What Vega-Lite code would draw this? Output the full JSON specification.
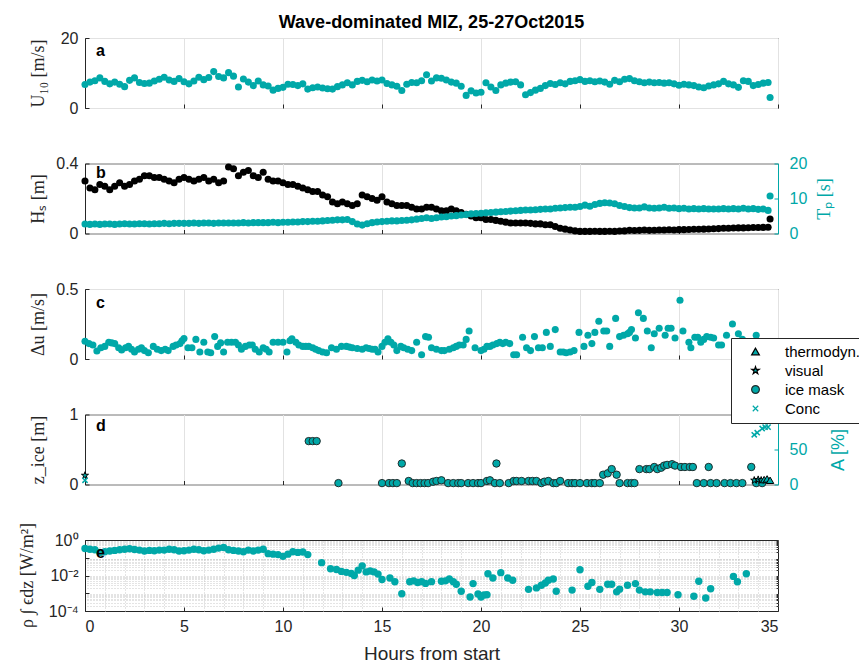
{
  "$schema": "https://vega.github.io/schema/vega-lite/v6.json",
  "background": "white",
  "padding": {"left": 17, "top": 13, "right": 0, "bottom": 5},
  "title": {"text": "Wave-dominated MIZ, 25-27Oct2015", "font": "Liberation Sans", "fontSize": 18, "fontWeight": "bold", "color": "#000000", "anchor": "middle", "frame": "group", "offset": -2},
  "spacing": 55.5,
  "bounds": "flush",
  "datasets": {
    "ab": [
      {"t":0,"u":6.7,"h":0.30,"p":2.7},{"t":0.25,"u":7.4,"h":0.26,"p":2.6},{"t":0.5,"u":7.8,"h":0.25,"p":2.7},{"t":0.75,"u":8.6,"h":0.28,"p":2.6},
      {"t":1,"u":7.6,"h":0.27,"p":2.7},{"t":1.25,"u":6.9,"h":0.25,"p":2.7},{"t":1.5,"u":7.4,"h":0.27,"p":2.6},{"t":1.75,"u":6.8,"h":0.29,"p":2.7},
      {"t":2,"u":6.1,"h":0.27,"p":2.8},{"t":2.25,"u":7.9,"h":0.28,"p":2.7},{"t":2.5,"u":8.6,"h":0.30,"p":2.7},{"t":2.75,"u":7.3,"h":0.31,"p":2.8},
      {"t":3,"u":7.0,"h":0.33,"p":2.8},{"t":3.25,"u":7.1,"h":0.33,"p":2.7},{"t":3.5,"u":7.7,"h":0.32,"p":2.8},{"t":3.75,"u":8.2,"h":0.32,"p":2.8},
      {"t":4,"u":8.8,"h":0.31,"p":2.9},{"t":4.25,"u":8.0,"h":0.30,"p":2.8},{"t":4.5,"u":7.6,"h":0.29,"p":2.9},{"t":4.75,"u":8.4,"h":0.31,"p":2.9},
      {"t":5,"u":7.5,"h":0.32,"p":2.9},{"t":5.25,"u":6.9,"h":0.31,"p":2.9},{"t":5.5,"u":7.7,"h":0.30,"p":3.0},{"t":5.75,"u":8.8,"h":0.31,"p":2.9},
      {"t":6,"u":8.1,"h":0.32,"p":3.0},{"t":6.25,"u":8.7,"h":0.30,"p":3.0},{"t":6.5,"u":10.4,"h":0.31,"p":2.9},{"t":6.75,"u":9.0,"h":0.29,"p":3.0},
      {"t":7,"u":8.6,"h":0.30,"p":3.0},{"t":7.25,"u":10.1,"h":0.38,"p":3.0},{"t":7.5,"u":9.1,"h":0.37,"p":3.0},{"t":7.75,"u":6.0,"h":0.33,"p":3.0},
      {"t":8,"u":8.3,"h":0.35,"p":3.1},{"t":8.25,"u":7.4,"h":0.36,"p":3.0},{"t":8.5,"u":6.4,"h":0.33,"p":3.1},{"t":8.75,"u":7.7,"h":0.32,"p":3.1},
      {"t":9,"u":6.6,"h":0.35,"p":3.1},{"t":9.25,"u":6.3,"h":0.31,"p":3.1},{"t":9.5,"u":5.1,"h":0.30,"p":3.2},{"t":9.75,"u":5.6,"h":0.30,"p":3.1},
      {"t":10,"u":5.9,"h":0.29,"p":3.2},{"t":10.25,"u":6.8,"h":0.28,"p":3.2},{"t":10.5,"u":6.7,"h":0.28,"p":3.3},{"t":10.75,"u":6.4,"h":0.27,"p":3.3},
      {"t":11,"u":6.9,"h":0.26,"p":3.4},{"t":11.25,"u":5.4,"h":0.25,"p":3.4},{"t":11.5,"u":5.8,"h":0.24,"p":3.5},{"t":11.75,"u":6.0,"h":0.24,"p":3.5},
      {"t":12,"u":5.7,"h":0.22,"p":3.6},{"t":12.25,"u":5.5,"h":0.21,"p":3.7},{"t":12.5,"u":5.4,"h":0.18,"p":3.8},{"t":12.75,"u":6.1,"h":0.17,"p":3.9},
      {"t":13,"u":6.6,"h":0.18,"p":3.9},{"t":13.25,"u":7.2,"h":0.17,"p":4.0},{"t":13.5,"u":6.6,"h":0.16,"p":3.4},{"t":13.75,"u":7.6,"h":0.17,"p":2.7},
      {"t":14,"u":7.9,"h":0.22,"p":2.4},{"t":14.25,"u":7.5,"h":0.21,"p":2.8},{"t":14.5,"u":8.0,"h":0.20,"p":3.1},{"t":14.75,"u":7.7,"h":0.19,"p":3.3},
      {"t":15,"u":8.0,"h":0.21,"p":3.4},{"t":15.25,"u":7.0,"h":0.18,"p":3.5},{"t":15.5,"u":6.6,"h":0.17,"p":3.6},{"t":15.75,"u":6.2,"h":0.16,"p":3.6},
      {"t":16,"u":5.0,"h":0.16,"p":3.7},{"t":16.25,"u":6.8,"h":0.16,"p":3.8},{"t":16.5,"u":7.3,"h":0.15,"p":3.9},{"t":16.75,"u":7.2,"h":0.14,"p":4.1},
      {"t":17,"u":7.8,"h":0.14,"p":4.3},{"t":17.25,"u":9.5,"h":0.15,"p":4.5},{"t":17.5,"u":7.7,"h":0.15,"p":4.3},{"t":17.75,"u":8.6,"h":0.14,"p":4.5},
      {"t":18,"u":8.5,"h":0.13,"p":4.7},{"t":18.25,"u":8.0,"h":0.13,"p":4.8},{"t":18.5,"u":7.4,"h":0.14,"p":5.0},{"t":18.75,"u":7.1,"h":0.13,"p":5.1},
      {"t":19,"u":6.2,"h":0.12,"p":5.3},{"t":19.25,"u":3.6,"h":0.11,"p":5.4},{"t":19.5,"u":4.9,"h":0.10,"p":5.6},{"t":19.75,"u":4.3,"h":0.09,"p":5.7},
      {"t":20,"u":4.5,"h":0.09,"p":5.8},{"t":20.25,"u":7.2,"h":0.08,"p":5.9},{"t":20.5,"u":6.0,"h":0.08,"p":6.0},{"t":20.75,"u":5.0,"h":0.075,"p":6.1},
      {"t":21,"u":6.6,"h":0.07,"p":6.2},{"t":21.25,"u":7.1,"h":0.065,"p":6.3},{"t":21.5,"u":7.4,"h":0.06,"p":6.4},{"t":21.75,"u":7.5,"h":0.06,"p":6.5},
      {"t":22,"u":6.6,"h":0.06,"p":6.6},{"t":22.25,"u":3.8,"h":0.06,"p":6.7},{"t":22.5,"u":4.4,"h":0.058,"p":6.7},{"t":22.75,"u":5.1,"h":0.055,"p":6.8},
      {"t":23,"u":5.6,"h":0.055,"p":6.9},{"t":23.25,"u":6.4,"h":0.05,"p":7.0},{"t":23.5,"u":7.0,"h":0.05,"p":7.0},{"t":23.75,"u":6.7,"h":0.04,"p":7.2},
      {"t":24,"u":7.2,"h":0.03,"p":7.3},{"t":24.25,"u":6.9,"h":0.025,"p":7.4},{"t":24.5,"u":7.6,"h":0.02,"p":7.5},{"t":24.75,"u":7.8,"h":0.015,"p":7.5},
      {"t":25,"u":8.1,"h":0.012,"p":7.7},{"t":25.25,"u":7.6,"h":0.012,"p":8.1},{"t":25.5,"u":7.8,"h":0.012,"p":7.8},{"t":25.75,"u":7.5,"h":0.013,"p":8.3},
      {"t":26,"u":7.7,"h":0.012,"p":8.6},{"t":26.25,"u":7.4,"h":0.012,"p":8.8},{"t":26.5,"u":6.8,"h":0.013,"p":8.7},{"t":26.75,"u":7.9,"h":0.012,"p":8.5},
      {"t":27,"u":7.5,"h":0.014,"p":8.0},{"t":27.25,"u":8.2,"h":0.015,"p":7.7},{"t":27.5,"u":8.4,"h":0.018,"p":7.4},{"t":27.75,"u":7.8,"h":0.017,"p":7.3},
      {"t":28,"u":7.5,"h":0.018,"p":7.3},{"t":28.25,"u":7.2,"h":0.02,"p":7.6},{"t":28.5,"u":7.4,"h":0.018,"p":7.3},{"t":28.75,"u":7.2,"h":0.019,"p":7.2},
      {"t":29,"u":7.3,"h":0.02,"p":7.3},{"t":29.25,"u":7.1,"h":0.02,"p":7.5},{"t":29.5,"u":7.2,"h":0.021,"p":7.2},{"t":29.75,"u":6.9,"h":0.02,"p":7.3},
      {"t":30,"u":6.5,"h":0.022,"p":7.1},{"t":30.25,"u":6.8,"h":0.022,"p":7.2},{"t":30.5,"u":6.6,"h":0.023,"p":7.0},{"t":30.75,"u":6.4,"h":0.024,"p":7.1},
      {"t":31,"u":6.0,"h":0.024,"p":7.0},{"t":31.25,"u":5.8,"h":0.025,"p":7.1},{"t":31.5,"u":6.3,"h":0.026,"p":7.0},{"t":31.75,"u":6.6,"h":0.027,"p":7.0},
      {"t":32,"u":6.9,"h":0.028,"p":7.0},{"t":32.25,"u":7.6,"h":0.03,"p":7.1},{"t":32.5,"u":6.9,"h":0.03,"p":7.0},{"t":32.75,"u":6.6,"h":0.031,"p":7.1},
      {"t":33,"u":5.9,"h":0.032,"p":7.0},{"t":33.25,"u":7.8,"h":0.032,"p":7.2},{"t":33.5,"u":7.6,"h":0.033,"p":7.0},{"t":33.75,"u":6.4,"h":0.034,"p":7.1},
      {"t":34,"u":6.7,"h":0.034,"p":6.9},{"t":34.25,"u":7.1,"h":0.035,"p":7.0},{"t":34.5,"u":7.3,"h":0.036,"p":6.6},{"t":34.6,"u":3.0,"h":0.083,"p":10.7}
    ],
    "c": [
      {"t":0,"d":0.127},{"t":0.2,"d":0.11},{"t":0.4,"d":0.10},{"t":0.6,"d":0.057},{"t":0.8,"d":0.08},{"t":1.0,"d":0.09},{"t":1.2,"d":0.12},{"t":1.35,"d":0.115},
      {"t":1.5,"d":0.11},{"t":1.7,"d":0.08},{"t":1.85,"d":0.064},{"t":2.05,"d":0.08},{"t":2.2,"d":0.09},{"t":2.35,"d":0.07},{"t":2.5,"d":0.05},{"t":2.7,"d":0.07},
      {"t":2.85,"d":0.08},{"t":3.0,"d":0.06},{"t":3.2,"d":0.045},{"t":3.45,"d":0.09},{"t":3.65,"d":0.07},{"t":3.85,"d":0.06},{"t":4.05,"d":0.07},{"t":4.2,"d":0.06},
      {"t":4.45,"d":0.09},{"t":4.6,"d":0.10},{"t":4.8,"d":0.11},{"t":4.9,"d":0.13},{"t":5.0,"d":0.146},{"t":5.2,"d":0.08},{"t":5.4,"d":0.08},{"t":5.6,"d":0.14},
      {"t":5.8,"d":0.05},{"t":6.0,"d":0.12},{"t":6.2,"d":0.05},{"t":6.35,"d":0.045},{"t":6.55,"d":0.16},{"t":6.7,"d":0.09},{"t":6.85,"d":0.115},{"t":7.0,"d":0.05},
      {"t":7.2,"d":0.12},{"t":7.4,"d":0.12},{"t":7.6,"d":0.12},{"t":7.75,"d":0.10},{"t":7.9,"d":0.07},{"t":8.1,"d":0.09},{"t":8.3,"d":0.10},{"t":8.45,"d":0.10},
      {"t":8.6,"d":0.07},{"t":8.8,"d":0.05},{"t":9.0,"d":0.08},{"t":9.15,"d":0.07},{"t":9.3,"d":0.05},{"t":9.5,"d":0.12},{"t":9.75,"d":0.12},{"t":10.0,"d":0.12},
      {"t":10.2,"d":0.05},{"t":10.35,"d":0.13},{"t":10.45,"d":0.145},{"t":10.65,"d":0.12},{"t":10.8,"d":0.10},{"t":11.0,"d":0.09},{"t":11.15,"d":0.09},{"t":11.3,"d":0.09},
      {"t":11.5,"d":0.08},{"t":11.65,"d":0.07},{"t":11.8,"d":0.06},{"t":12.0,"d":0.05},{"t":12.2,"d":0.045},{"t":12.45,"d":0.08},{"t":12.7,"d":0.07},{"t":12.95,"d":0.09},
      {"t":13.2,"d":0.09},{"t":13.35,"d":0.085},{"t":13.5,"d":0.08},{"t":13.75,"d":0.075},{"t":14.0,"d":0.07},{"t":14.2,"d":0.08},{"t":14.35,"d":0.075},{"t":14.5,"d":0.07},
      {"t":14.65,"d":0.07},{"t":14.8,"d":0.05},{"t":15.0,"d":0.09},{"t":15.15,"d":0.12},{"t":15.3,"d":0.145},{"t":15.45,"d":0.12},{"t":15.6,"d":0.10},{"t":15.75,"d":0.06},
      {"t":15.95,"d":0.09},{"t":16.1,"d":0.08},{"t":16.3,"d":0.07},{"t":16.5,"d":0.06},{"t":16.75,"d":0.12},{"t":17.0,"d":0.03},{"t":17.2,"d":0.16},
      {"t":17.35,"d":0.155},{"t":17.5,"d":0.08},{"t":17.75,"d":0.07},{"t":18.0,"d":0.06},{"t":18.15,"d":0.06},{"t":18.4,"d":0.07},{"t":18.6,"d":0.08},{"t":18.75,"d":0.09},
      {"t":18.9,"d":0.10},{"t":19.1,"d":0.10},{"t":19.25,"d":0.14},{"t":19.4,"d":0.2},{"t":19.7,"d":0.08},{"t":20.0,"d":0.06},{"t":20.15,"d":0.07},{"t":20.3,"d":0.09},
      {"t":20.45,"d":0.09},{"t":20.6,"d":0.10},{"t":20.8,"d":0.11},{"t":20.95,"d":0.12},{"t":21.1,"d":0.11},{"t":21.25,"d":0.12},{"t":21.45,"d":0.11},{"t":21.65,"d":0.03},
      {"t":21.8,"d":0.03},{"t":22.1,"d":0.155},{"t":22.3,"d":0.08},{"t":22.5,"d":0.06},{"t":22.7,"d":0.16},{"t":22.9,"d":0.08},{"t":23.1,"d":0.08},{"t":23.3,"d":0.19},
      {"t":23.5,"d":0.09},{"t":23.75,"d":0.21},{"t":24.0,"d":0.05},{"t":24.15,"d":0.05},{"t":24.3,"d":0.045},{"t":24.5,"d":0.05},{"t":24.7,"d":0.06},{"t":24.95,"d":0.19},
      {"t":25.2,"d":0.09},{"t":25.4,"d":0.17},{"t":25.6,"d":0.11},{"t":25.75,"d":0.19},{"t":25.95,"d":0.27},{"t":26.2,"d":0.2},{"t":26.35,"d":0.2},{"t":26.5,"d":0.09},
      {"t":26.8,"d":0.29},{"t":27.0,"d":0.16},{"t":27.2,"d":0.17},{"t":27.4,"d":0.18},{"t":27.5,"d":0.19},{"t":27.6,"d":0.21},{"t":27.8,"d":0.15},{"t":27.95,"d":0.33},
      {"t":28.2,"d":0.29},{"t":28.4,"d":0.2},{"t":28.6,"d":0.08},{"t":28.75,"d":0.18},{"t":29.0,"d":0.22},{"t":29.3,"d":0.17},{"t":29.45,"d":0.22},{"t":29.6,"d":0.22},
      {"t":29.8,"d":0.15},{"t":30.05,"d":0.42},{"t":30.2,"d":0.2},{"t":30.5,"d":0.12},{"t":30.6,"d":0.08},{"t":30.8,"d":0.155},{"t":30.95,"d":0.155},{"t":31.1,"d":0.12},
      {"t":31.25,"d":0.14},{"t":31.4,"d":0.16},{"t":31.6,"d":0.155},{"t":31.75,"d":0.15},{"t":32.0,"d":0.10},{"t":32.15,"d":0.10},{"t":32.4,"d":0.17},{"t":32.7,"d":0.25},
      {"t":33.0,"d":0.18},{"t":33.2,"d":0.14},{"t":33.45,"d":0.12},{"t":33.9,"d":0.17},{"t":34.2,"d":0.10}
    ],
    "ice": [
      {"t":11.3,"z":0.62,"k":"ice mask"},{"t":11.5,"z":0.62,"k":"ice mask"},{"t":11.7,"z":0.62,"k":"ice mask"},{"t":12.8,"z":0.02,"k":"ice mask"},
      {"t":15.0,"z":0.02,"k":"ice mask"},{"t":15.35,"z":0.02,"k":"ice mask"},{"t":15.55,"z":0.02,"k":"ice mask"},{"t":15.75,"z":0.02,"k":"ice mask"},
      {"t":16.0,"z":0.30,"k":"ice mask"},{"t":16.35,"z":0.05,"k":"ice mask"},{"t":16.55,"z":0.02,"k":"ice mask"},{"t":16.75,"z":0.02,"k":"ice mask"},
      {"t":16.95,"z":0.02,"k":"ice mask"},{"t":17.15,"z":0.02,"k":"ice mask"},{"t":17.33,"z":0.02,"k":"ice mask"},{"t":17.58,"z":0.04,"k":"ice mask"},
      {"t":17.75,"z":0.05,"k":"ice mask"},{"t":18.0,"z":0.06,"k":"ice mask"},{"t":18.34,"z":0.02,"k":"ice mask"},{"t":18.6,"z":0.02,"k":"ice mask"},
      {"t":18.85,"z":0.02,"k":"ice mask"},{"t":19.0,"z":0.02,"k":"ice mask"},{"t":19.35,"z":0.02,"k":"ice mask"},{"t":19.6,"z":0.02,"k":"ice mask"},
      {"t":19.85,"z":0.02,"k":"ice mask"},{"t":20.0,"z":0.02,"k":"ice mask"},{"t":20.3,"z":0.05,"k":"ice mask"},{"t":20.45,"z":0.06,"k":"ice mask"},
      {"t":20.7,"z":0.02,"k":"ice mask"},{"t":20.78,"z":0.30,"k":"ice mask"},{"t":20.95,"z":0.02,"k":"ice mask"},{"t":21.4,"z":0.02,"k":"ice mask"},
      {"t":21.65,"z":0.05,"k":"ice mask"},{"t":21.8,"z":0.05,"k":"ice mask"},{"t":22.05,"z":0.05,"k":"ice mask"},{"t":22.4,"z":0.05,"k":"ice mask"},
      {"t":22.6,"z":0.05,"k":"ice mask"},{"t":22.8,"z":0.05,"k":"ice mask"},{"t":23.05,"z":0.02,"k":"ice mask"},{"t":23.2,"z":0.04,"k":"ice mask"},
      {"t":23.4,"z":0.05,"k":"ice mask"},{"t":23.65,"z":0.02,"k":"ice mask"},{"t":23.8,"z":0.02,"k":"ice mask"},{"t":24.0,"z":0.05,"k":"ice mask"},
      {"t":24.4,"z":0.02,"k":"ice mask"},{"t":24.6,"z":0.02,"k":"ice mask"},{"t":24.75,"z":0.02,"k":"ice mask"},{"t":25.0,"z":0.02,"k":"ice mask"},
      {"t":25.35,"z":0.02,"k":"ice mask"},{"t":25.6,"z":0.02,"k":"ice mask"},{"t":25.75,"z":0.02,"k":"ice mask"},{"t":26.0,"z":0.02,"k":"ice mask"},
      {"t":26.17,"z":0.14,"k":"ice mask"},{"t":26.4,"z":0.16,"k":"ice mask"},{"t":26.6,"z":0.22,"k":"ice mask"},{"t":26.85,"z":0.14,"k":"ice mask"},
      {"t":27.0,"z":0.02,"k":"ice mask"},{"t":27.4,"z":0.02,"k":"ice mask"},{"t":27.6,"z":0.02,"k":"ice mask"},{"t":27.75,"z":0.02,"k":"ice mask"},
      {"t":28.0,"z":0.22,"k":"ice mask"},{"t":28.35,"z":0.22,"k":"ice mask"},{"t":28.5,"z":0.22,"k":"ice mask"},{"t":28.75,"z":0.25,"k":"ice mask"},
      {"t":28.9,"z":0.22,"k":"ice mask"},{"t":29.1,"z":0.24,"k":"ice mask"},{"t":29.25,"z":0.27,"k":"ice mask"},{"t":29.4,"z":0.28,"k":"ice mask"},
      {"t":29.65,"z":0.29,"k":"ice mask"},{"t":29.8,"z":0.27,"k":"ice mask"},{"t":30.1,"z":0.25,"k":"ice mask"},{"t":30.3,"z":0.25,"k":"ice mask"},
      {"t":30.55,"z":0.25,"k":"ice mask"},{"t":30.7,"z":0.25,"k":"ice mask"},{"t":30.9,"z":0.02,"k":"ice mask"},{"t":31.25,"z":0.02,"k":"ice mask"},
      {"t":31.5,"z":0.25,"k":"ice mask"},{"t":31.6,"z":0.02,"k":"ice mask"},{"t":31.9,"z":0.02,"k":"ice mask"},{"t":32.3,"z":0.02,"k":"ice mask"},
      {"t":32.6,"z":0.02,"k":"ice mask"},{"t":32.9,"z":0.02,"k":"ice mask"},{"t":33.2,"z":0.02,"k":"ice mask"},{"t":33.65,"z":0.25,"k":"ice mask"},
      {"t":33.9,"z":0.02,"k":"ice mask"},{"t":34.2,"z":0.02,"k":"ice mask"},
      {"t":0,"z":0.13,"k":"visual"},{"t":33.8,"z":0.06,"k":"visual"},{"t":34.0,"z":0.07,"k":"visual"},{"t":34.15,"z":0.06,"k":"visual"},
      {"t":34.3,"z":0.07,"k":"thermodyn."},{"t":34.45,"z":0.08,"k":"thermodyn."},{"t":34.6,"z":0.06,"k":"thermodyn."}
    ],
    "conc": [
      {"t":0,"a":6,"k":"Conc"},{"t":33.8,"a":71,"k":"Conc"},{"t":33.95,"a":74,"k":"Conc"},{"t":34.2,"a":80,"k":"Conc"},{"t":34.35,"a":82,"k":"Conc"},{"t":34.5,"a":82,"k":"Conc"}
    ],
    "e": [
      {"t":0,"e":0.33},{"t":0.25,"e":0.30},{"t":0.5,"e":0.28},{"t":0.75,"e":0.2},{"t":1.0,"e":0.22},{"t":1.25,"e":0.24},{"t":1.5,"e":0.26},{"t":1.75,"e":0.28},
      {"t":2.0,"e":0.30},{"t":2.25,"e":0.32},{"t":2.5,"e":0.29},{"t":2.75,"e":0.27},{"t":3.0,"e":0.24},{"t":3.25,"e":0.26},{"t":3.5,"e":0.25},{"t":3.75,"e":0.27},
      {"t":4.0,"e":0.27},{"t":4.25,"e":0.30},{"t":4.5,"e":0.28},{"t":4.75,"e":0.24},{"t":5.0,"e":0.25},{"t":5.25,"e":0.27},{"t":5.5,"e":0.30},{"t":5.75,"e":0.28},
      {"t":6.0,"e":0.25},{"t":6.25,"e":0.27},{"t":6.5,"e":0.30},{"t":6.75,"e":0.35},{"t":7.0,"e":0.38},{"t":7.25,"e":0.28},{"t":7.5,"e":0.26},{"t":7.75,"e":0.24},
      {"t":8.0,"e":0.22},{"t":8.25,"e":0.27},{"t":8.5,"e":0.24},{"t":8.75,"e":0.27},{"t":9.0,"e":0.30},{"t":9.25,"e":0.17},{"t":9.5,"e":0.16},{"t":9.75,"e":0.15},
      {"t":10.0,"e":0.12},{"t":10.25,"e":0.16},{"t":10.5,"e":0.22},{"t":10.75,"e":0.20},{"t":11.0,"e":0.21},{"t":11.25,"e":0.15},
      {"t":11.95,"e":0.053},{"t":12.4,"e":0.024},{"t":12.7,"e":0.022},{"t":12.95,"e":0.017},{"t":13.2,"e":0.015},{"t":13.45,"e":0.013},{"t":13.6,"e":0.01},
      {"t":13.8,"e":0.02},{"t":14.0,"e":0.035},{"t":14.2,"e":0.016},{"t":14.4,"e":0.018},{"t":14.6,"e":0.016},{"t":14.8,"e":0.012},{"t":15.0,"e":0.006},
      {"t":15.4,"e":0.0072},{"t":15.65,"e":0.0044},{"t":16.0,"e":0.00093},{"t":16.4,"e":0.0044},{"t":16.6,"e":0.005},{"t":16.8,"e":0.004},{"t":17.0,"e":0.0045},
      {"t":17.2,"e":0.0036},{"t":17.5,"e":0.0045},{"t":18.0,"e":0.0047},{"t":18.2,"e":0.005},{"t":18.4,"e":0.0063},{"t":18.6,"e":0.0045},{"t":18.75,"e":0.0032},
      {"t":19.0,"e":0.0013},{"t":19.45,"e":0.00062},{"t":19.6,"e":0.0035},{"t":19.85,"e":0.00091},{"t":20.0,"e":0.00062},{"t":20.15,"e":0.0008},{"t":20.3,"e":0.00083},
      {"t":20.35,"e":0.0126},{"t":20.6,"e":0.0072},{"t":21.0,"e":0.0145},{"t":21.35,"e":0.0072},{"t":21.6,"e":0.0054},{"t":22.4,"e":0.00166},{"t":22.8,"e":0.002},
      {"t":23.05,"e":0.0028},{"t":23.25,"e":0.0038},{"t":23.4,"e":0.0054},{"t":23.65,"e":0.0063},{"t":23.8,"e":0.0013},{"t":24.6,"e":0.0015},{"t":25.0,"e":0.021},
      {"t":25.4,"e":0.0025},{"t":25.6,"e":0.004},{"t":26.0,"e":0.00166},{"t":26.4,"e":0.0032},{"t":26.6,"e":0.0032},{"t":26.85,"e":0.0012},{"t":27.0,"e":0.0017},
      {"t":27.4,"e":0.0028},{"t":27.8,"e":0.0035},{"t":28.0,"e":0.0015},{"t":28.3,"e":0.0012},{"t":28.55,"e":0.0012},{"t":28.9,"e":0.0011},{"t":29.15,"e":0.0011},
      {"t":29.4,"e":0.0011},{"t":29.95,"e":0.00083},{"t":30.75,"e":0.00068},{"t":31.0,"e":0.0047},{"t":31.35,"e":0.00054},{"t":31.6,"e":0.0018},{"t":32.75,"e":0.0089},
      {"t":32.95,"e":0.0044},{"t":33.4,"e":0.0126}
    ]
  },
  "vconcat": [
    {
      "width": 693, "height": 70,
      "layer": [
        {"data": {"name": "ab"}, "mark": {"type": "circle", "size": 50, "opacity": 1, "color": "#00a8a8"},
         "encoding": {
           "x": {"field": "t", "type": "quantitative", "scale": {"domain": [0, 35], "nice": false, "zero": false}, "axis": {"values": [0,5,10,15,20,25,30,35], "labels": false, "title": null, "domain": false}},
           "y": {"field": "u", "type": "quantitative", "scale": {"domain": [0, 20], "nice": false}, "axis": {"values": [0, 10, 20], "title": "U₁₀ [m/s]", "titleX": -47, "titleY": 35}}
         }},
        {"data": {"values": [{"t": 0.55, "u": 16.3, "lab": "a"}]}, "mark": {"type": "text", "align": "left", "baseline": "middle", "fontWeight": "bold", "fontSize": 16, "font": "Liberation Sans", "color": "#000000"},
         "encoding": {"x": {"field": "t", "type": "quantitative"}, "y": {"field": "u", "type": "quantitative"}, "text": {"field": "lab"}}}
      ]
    },
    {
      "width": 693, "height": 70,
      "layer": [
        {"layer": [
          {"data": {"name": "ab"}, "mark": {"type": "circle", "size": 50, "opacity": 1, "color": "#000000"},
           "encoding": {
             "x": {"field": "t", "type": "quantitative", "scale": {"domain": [0, 35], "nice": false, "zero": false}, "axis": {"values": [0,5,10,15,20,25,30,35], "labels": false, "title": null, "domain": false}},
             "y": {"field": "h", "type": "quantitative", "scale": {"domain": [0, 0.4], "nice": false}, "axis": {"values": [0, 0.2, 0.4], "labelExpr": "'' + datum.value", "title": "Hₛ [m]", "titleX": -47, "titleY": 35}}
           }},
          {"data": {"values": [{"t": 0.55, "h": 0.345, "lab": "b"}]}, "mark": {"type": "text", "align": "left", "baseline": "middle", "fontWeight": "bold", "fontSize": 16, "font": "Liberation Sans", "color": "#000000"},
           "encoding": {"x": {"field": "t", "type": "quantitative"}, "y": {"field": "h", "type": "quantitative"}, "text": {"field": "lab"}}}
        ]},
        {"data": {"name": "ab"}, "mark": {"type": "circle", "size": 50, "opacity": 1, "color": "#00a8a8"},
         "encoding": {
           "x": {"field": "t", "type": "quantitative"},
           "y": {"field": "p", "type": "quantitative", "scale": {"domain": [0, 20], "nice": false}, "axis": {"orient": "right", "values": [0, 10, 20], "grid": false, "labelPadding": 15, "title": "Tₚ [s]", "titleColor": "#00a8a8", "labelColor": "#00a8a8", "domainColor": "#00a8a8", "tickColor": "#00a8a8", "titleX": 46, "titleY": 35}}
         }}
      ],
      "resolve": {"scale": {"y": "independent"}}
    },
    {
      "width": 693, "height": 70,
      "layer": [
        {"data": {"name": "c"}, "mark": {"type": "circle", "size": 50, "opacity": 1, "color": "#00a8a8"},
         "encoding": {
           "x": {"field": "t", "type": "quantitative", "scale": {"domain": [0, 35], "nice": false, "zero": false}, "axis": {"values": [0,5,10,15,20,25,30,35], "labels": false, "title": null, "domain": false}},
           "y": {"field": "d", "type": "quantitative", "scale": {"domain": [0, 0.5], "nice": false}, "axis": {"values": [0, 0.5], "labelExpr": "'' + datum.value", "title": "Δu [m/s]", "titleX": -47, "titleY": 35}}
         }},
        {"data": {"values": [{"t": 0.55, "d": 0.4, "lab": "c"}]}, "mark": {"type": "text", "align": "left", "baseline": "middle", "fontWeight": "bold", "fontSize": 16, "font": "Liberation Sans", "color": "#000000"},
         "encoding": {"x": {"field": "t", "type": "quantitative"}, "y": {"field": "d", "type": "quantitative"}, "text": {"field": "lab"}}}
      ]
    },
    {
      "width": 693, "height": 70,
      "layer": [
        {"layer": [
          {"data": {"name": "ice"}, "mark": {"type": "point", "filled": true, "size": 55, "opacity": 1, "strokeWidth": 1},
           "encoding": {
             "x": {"field": "t", "type": "quantitative", "scale": {"domain": [0, 35], "nice": false, "zero": false}, "axis": {"values": [0,5,10,15,20,25,30,35], "labels": false, "title": null, "domain": false}},
             "y": {"field": "z", "type": "quantitative", "scale": {"domain": [0, 1], "nice": false}, "axis": {"values": [0, 0.5, 1], "labelExpr": "'' + datum.value", "title": "z_ice [m]", "titleX": -47, "titleY": 35}},
             "shape": {"field": "k", "type": "nominal", "scale": {"domain": ["thermodyn.", "visual", "ice mask", "Conc"], "range": ["triangle-up", "M0,-1L0.224,-0.309L0.951,-0.309L0.363,0.118L0.588,0.809L0,0.382L-0.588,0.809L-0.363,0.118L-0.951,-0.309L-0.224,-0.309Z", "circle", "M-0.7,-0.7L0.7,0.7M-0.7,0.7L0.7,-0.7"]},
                       "legend": {"orient": "none", "legendX": 646, "legendY": 300, "title": null}},
             "fill": {"field": "k", "type": "nominal", "scale": {"domain": ["thermodyn.", "visual", "ice mask", "Conc"], "range": ["#00a8a8", "#00a8a8", "#00a8a8", "transparent"]},
                      "legend": {"orient": "none", "legendX": 646, "legendY": 300, "title": null}},
             "stroke": {"field": "k", "type": "nominal", "scale": {"domain": ["thermodyn.", "visual", "ice mask", "Conc"], "range": ["#000000", "#000000", "#1e2e2e", "#00a8a8"]},
                        "legend": {"orient": "none", "legendX": 646, "legendY": 300, "title": null}}
           }},
          {"data": {"values": [{"t": 0.55, "z": 0.83, "lab": "d"}]}, "mark": {"type": "text", "align": "left", "baseline": "middle", "fontWeight": "bold", "fontSize": 16, "font": "Liberation Sans", "color": "#000000"},
           "encoding": {"x": {"field": "t", "type": "quantitative"}, "y": {"field": "z", "type": "quantitative"}, "text": {"field": "lab"}}}
        ]},
        {"data": {"name": "conc"}, "mark": {"type": "point", "filled": true, "size": 55, "opacity": 1, "strokeWidth": 1.5},
         "encoding": {
           "x": {"field": "t", "type": "quantitative"},
           "y": {"field": "a", "type": "quantitative", "scale": {"domain": [0, 100], "nice": false}, "axis": {"orient": "right", "values": [0, 50, 100], "grid": false, "labelPadding": 15, "title": "A [%]", "titleFont": "Liberation Sans", "titleFontSize": 18, "titleColor": "#00a8a8", "labelColor": "#00a8a8", "domainColor": "#00a8a8", "tickColor": "#00a8a8", "titleX": 60, "titleY": 35}},
           "shape": {"field": "k", "type": "nominal", "scale": {"domain": ["thermodyn.", "visual", "ice mask", "Conc"], "range": ["triangle-up", "M0,-1L0.224,-0.309L0.951,-0.309L0.363,0.118L0.588,0.809L0,0.382L-0.588,0.809L-0.363,0.118L-0.951,-0.309L-0.224,-0.309Z", "circle", "M-0.7,-0.7L0.7,0.7M-0.7,0.7L0.7,-0.7"]},
                     "legend": {"orient": "none", "legendX": 646, "legendY": 300, "title": null}},
           "fill": {"field": "k", "type": "nominal", "scale": {"domain": ["thermodyn.", "visual", "ice mask", "Conc"], "range": ["#00a8a8", "#00a8a8", "#00a8a8", "transparent"]},
                    "legend": {"orient": "none", "legendX": 646, "legendY": 300, "title": null}},
           "stroke": {"field": "k", "type": "nominal", "scale": {"domain": ["thermodyn.", "visual", "ice mask", "Conc"], "range": ["#000000", "#000000", "#1e2e2e", "#00a8a8"]},
                      "legend": {"orient": "none", "legendX": 646, "legendY": 300, "title": null}}
         }}
      ],
      "resolve": {"scale": {"y": "independent"}}
    },
    {
      "width": 693, "height": 71,
      "layer": [
        {"data": {"values": [{"t": 0.55, "e": 0.19, "lab": "e"}]}, "mark": {"type": "text", "opacity": 0},
         "encoding": {
           "x": {"field": "t", "type": "quantitative", "scale": {"domain": [0, 35], "nice": false, "zero": false},
                 "axis": {"orient": "top", "values": [1,2,3,4,6,7,8,9,11,12,13,14,16,17,18,19,21,22,23,24,26,27,28,29,31,32,33,34],
                          "labels": false, "ticks": false, "domain": false, "title": null, "gridDash": [1, 2], "gridColor": "#c8c8c8"}},
           "y": {"field": "e", "type": "quantitative", "scale": {"type": "log", "domain": [0.0001, 1], "nice": false},
                 "axis": {"orient": "right", "values": [0.0002,0.0003,0.0004,0.0005,0.0006,0.0007,0.0008,0.0009,0.002,0.003,0.004,0.005,0.006,0.007,0.008,0.009,0.02,0.03,0.04,0.05,0.06,0.07,0.08,0.09,0.2,0.3,0.4,0.5,0.6,0.7,0.8,0.9],
                          "labels": false, "ticks": true, "tickSize": -2, "domain": false, "title": null, "gridDash": [1, 2], "gridColor": "#c8c8c8"}},
           "text": {"field": "lab"}
         }},
        {"data": {"name": "e"}, "mark": {"type": "circle", "size": 55, "opacity": 1, "color": "#00a8a8"},
         "encoding": {
           "x": {"field": "t", "type": "quantitative",
                 "axis": {"values": [0,5,10,15,20,25,30,35], "title": "Hours from start", "titleFont": "Liberation Sans", "titleFontSize": 19, "titleFontWeight": "normal", "titlePadding": 10, "domain": false, "gridColor": "#dcdcdc"}},
           "y": {"field": "e", "type": "quantitative",
                 "axis": {"values": [0.0001, 0.001, 0.01, 0.1, 1],
                          "labelExpr": "datum.value == 1 ? '10⁰' : (datum.value == 0.01 ? '10⁻²' : (datum.value == 0.0001 ? '10⁻⁴' : ''))",
                          "gridColor": "#dcdcdc",
                          "title": "ρ ∫ ϵdz [W/m²]", "titleX": -58, "titleY": 35}}
         }},
        {"data": {"values": [{"t": 0.55, "e": 0.19, "lab": "e"}]}, "mark": {"type": "text", "align": "left", "baseline": "middle", "fontWeight": "bold", "fontSize": 16, "font": "Liberation Sans", "color": "#000000"},
         "encoding": {"x": {"field": "t", "type": "quantitative", "axis": null}, "y": {"field": "e", "type": "quantitative", "axis": null}, "text": {"field": "lab"}}}
      ],
      "resolve": {"axis": {"x": "independent", "y": "independent"}}
    }
  ],
  "config": {
    "font": "Liberation Sans",
    "view": {"stroke": "#262626", "strokeWidth": 1},
    "axis": {
      "labelFont": "Liberation Sans", "labelFontSize": 16, "labelColor": "#262626",
      "domainColor": "#262626", "tickColor": "#262626", "tickSize": -4, "labelPadding": 11,
      "grid": true, "gridColor": "#e2e2e2", "gridWidth": 1,
      "titleFont": "Liberation Serif", "titleFontSize": 18, "titleFontWeight": "normal", "titleColor": "#262626",
      "titleAngle": 270, "titleBaseline": "middle", "titleAlign": "center"
    },
    "axisX": {"titleAngle": 0, "titleBaseline": "top"},
    "legend": {
      "strokeColor": "#262626", "fillColor": "#ffffff", "padding": 6, "cornerRadius": 0,
      "labelFont": "Liberation Sans", "labelFontSize": 15, "labelColor": "#000000", "labelOffset": 22,
      "symbolSize": 60, "symbolStrokeWidth": 1.2, "symbolOffset": 11, "rowPadding": 3, "offset": 0
    }
  }
}
